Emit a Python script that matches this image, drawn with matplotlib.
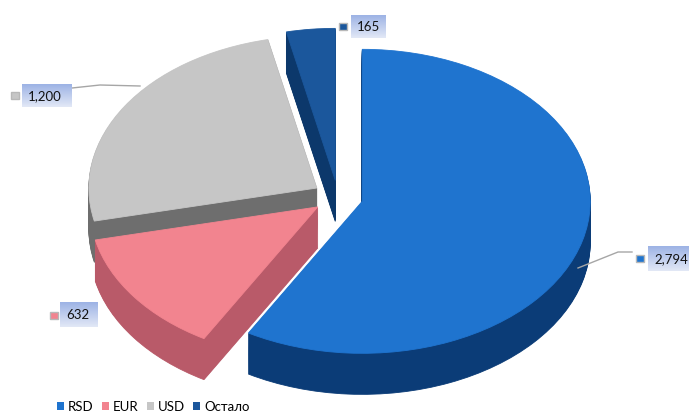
import numpy as np
import matplotlib
matplotlib.use("Agg")
import matplotlib.pyplot as plt
from matplotlib.patches import Patch
from matplotlib.colors import to_rgb

plt.rcParams['font.family'] = ['Lato', 'DejaVu Sans']

categories = ['RSD', 'EUR', 'USD', 'Остало']
values = [2794, 632, 1200, 165]
top_colors = ['#1f74cf', '#f2848f', '#c6c6c6', '#1b579c']
side_colors = ['#0b3c77', '#b95a69', '#6e6e6e', '#0c386b']

W, H = 689, 415
fig = plt.figure(figsize=(W / 100, H / 100), dpi=100)

# pie axes: squashed unit circle to mimic 3D tilt
cx, cy = 338, 197          # pixel centre (from top)
sx, sy = 228, 152          # pixels per unit
ax = fig.add_axes([0, 0, 1, 1])
explode = [0.11] * len(values)
depth = 0.27
n_layers = 40
for k in range(n_layers):
    dy = depth * (1 - k / n_layers)
    ax.pie(values, colors=side_colors, startangle=90, counterclock=False,
           explode=explode, center=(0, -dy),
           wedgeprops=dict(linewidth=0.6, edgecolor=None))
    for w, c in zip(ax.patches[-len(values):], side_colors):
        w.set_edgecolor(c)
wedges, _ = ax.pie(values, colors=top_colors, startangle=90, counterclock=False,
                   explode=explode, center=(0, 0),
                   wedgeprops=dict(linewidth=0.6))
for w, c in zip(wedges, top_colors):
    w.set_edgecolor(c)
ax.set_aspect('auto')
ax.set_xlim(-cx / sx, (W - cx) / sx)
ax.set_ylim(-(H - cy) / sy, cy / sy)
ax.axis('off')

# overlay axes in pixel coordinates for labels
ax2 = fig.add_axes([0, 0, 1, 1], zorder=5)
ax2.patch.set_alpha(0)

top_c = np.array(to_rgb('#9db3e5'))
bot_c = np.array(to_rgb('#e2e8f6'))
grad = np.linspace(0, 1, 50)[:, None, None]
grad_img = top_c * (1 - grad) + bot_c * grad

def label(text, box, marker, color, line=None):
    x0, y0, x1, y1 = box
    ax2.imshow(grad_img, extent=(x0, x1, y1, y0), aspect='auto', origin='upper', zorder=2)
    ax2.text(x0 + 6, (y0 + y1) / 2 + 0.5, text, fontsize=9.5, va='center', ha='left',
             color='#111111', zorder=3)
    mx, my = marker
    ax2.add_patch(plt.Rectangle((mx - 4, my - 3.5), 8, 7, facecolor=color,
                                edgecolor='#b8b8b8', linewidth=1.0, zorder=3))
    if line is not None:
        ax2.plot(line[0], line[1], color='#a6a6a6', linewidth=1.0, zorder=1)

labels = [f"{v:,}" for v in values]
label(labels[0], (648, 246, 689, 271), (640, 258), top_colors[0],
      line=([578, 618, 632], [268, 252, 252]))
label(labels[1], (60, 302, 98, 327), (54, 315), top_colors[1])
label(labels[2], (22, 85, 72, 107), (15, 96), top_colors[2],
      line=([72, 100, 140], [88, 85, 86]))
label(labels[3], (351, 15, 386, 38), (343, 27), top_colors[3])

ax2.set_xlim(0, W)
ax2.set_ylim(H, 0)
ax2.axis('off')

handles = [Patch(facecolor=c, edgecolor='none') for c in top_colors]
fig.legend(handles, categories, loc='center left',
           bbox_to_anchor=(57 / W, 1 - 407 / H), ncol=4, frameon=False,
           fontsize=9.5, handlelength=0.55, handleheight=0.55, handletextpad=0.3,
           columnspacing=0.6, borderpad=0, borderaxespad=0)

fig.savefig('out.png', dpi=100)
